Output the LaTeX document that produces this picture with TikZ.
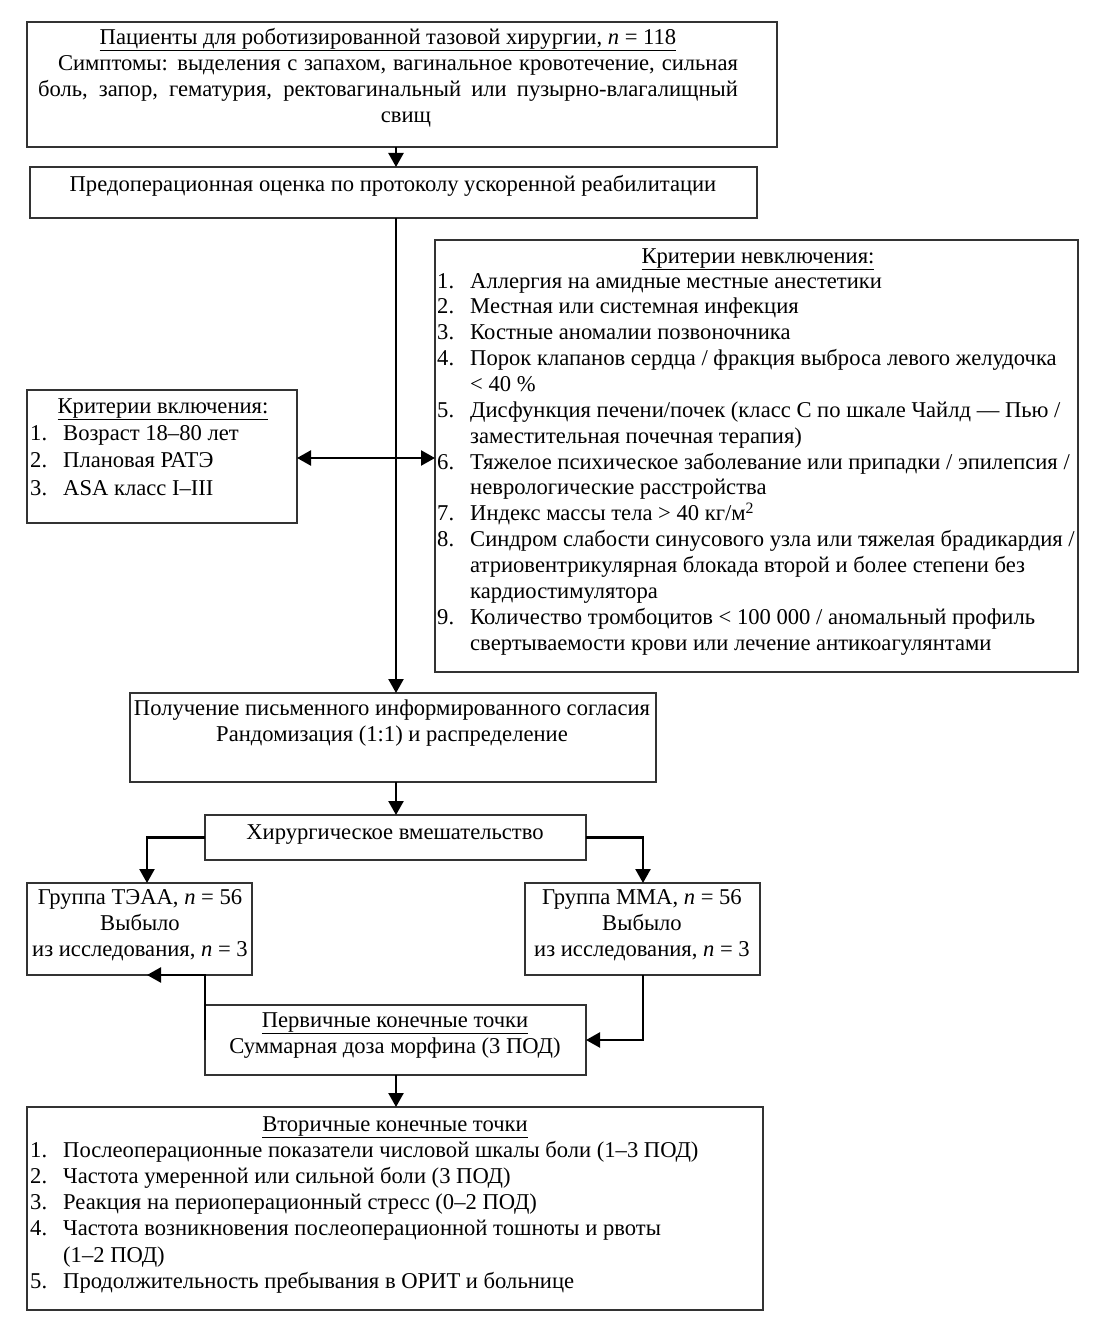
\documentclass[tikz,border=0pt]{standalone}
\usepackage{fontspec}
\setmainfont{Liberation Serif}
\usetikzlibrary{arrows.meta}
\newcommand\Lnum[1]{\strut\makebox[33pt][l]{#1}}
\newcommand\Lcont{\strut\hspace*{33pt}}
\begin{document}
\begin{tikzpicture}[x=1pt,y=-1pt,
  box/.style={draw=black!80, line width=1.6pt, anchor=north west, inner sep=0pt, outer sep=0pt},
  txt/.style={inner sep=0pt, font=\fontsize{22.6}{26}\selectfont},
  lst/.style={txt, align=left, anchor=north west},
  ctr/.style={txt, align=center, anchor=north},
  arr/.style={line width=2.4pt, -{Triangle[width=15pt,length=14pt]}},
  darr/.style={line width=2.4pt, {Triangle[width=15pt,length=14pt]}-{Triangle[width=15pt,length=14pt]}}]
\fill[white] (0,0) rectangle (1100,1337);
\useasboundingbox (0,0) rectangle (1100,1337);
% boxes
\node[box, minimum width=750pt, minimum height=125pt] (B1) at (27,22) {};
\node[box, minimum width=727pt, minimum height=51pt] (B2) at (30,167) {};
\node[box, minimum width=643pt, minimum height=432pt] (EX) at (435,240) {};
\node[box, minimum width=270pt, minimum height=133pt] (IN) at (27,390) {};
\node[box, minimum width=526pt, minimum height=89pt] (CON) at (130,693) {};
\node[box, minimum width=381pt, minimum height=45pt] (SUR) at (205,815) {};
\node[box, minimum width=225pt, minimum height=92pt] (TE) at (27,883) {};
\node[box, minimum width=235pt, minimum height=92pt] (MM) at (525,883) {};
\node[box, minimum width=381pt, minimum height=70pt] (PRI) at (205,1005) {};
\node[box, minimum width=736pt, minimum height=203pt] (SEC) at (27,1107) {};
% texts
\node[ctr] (t1) at (388,25.8) {\strut\underline{Пациенты для роботизированной тазовой хирургии, \textit{n} = 118}\\
\strut\makebox[700pt][r]{\makebox[680pt][s]{Симптомы: выделения с запахом, вагинальное кровотечение, сильная}}\\
\strut\makebox[700pt][s]{боль, запор, гематурия, ректовагинальный или пузырно-влагалищный}\\
\strut\makebox[700pt][c]{\hspace*{36pt}свищ}};
\node[ctr] (t2) at (393,172.8) {\strut Предоперационная оценка по протоколу ускоренной реабилитации};
\node[ctr] (t3) at (758,244.8) {\strut\underline{Критерии невключения:}};
\node[lst, font=\fontsize{22.6}{25.86}\selectfont] (t4) at (437,269.8) {%
\Lnum{1.}Аллергия на амидные местные анестетики\\
\Lnum{2.}Местная или системная инфекция\\
\Lnum{3.}Костные аномалии позвоночника\\
\Lnum{4.}Порок клапанов сердца / фракция выброса левого желудочка\\
\Lcont < 40 \%\\
\Lnum{5.}Дисфункция печени/почек (класс С по шкале Чайлд — Пью /\\
\Lcont заместительная почечная терапия)\\
\Lnum{6.}Тяжелое психическое заболевание или припадки / эпилепсия /\\
\Lcont неврологические расстройства\\
\Lnum{7.}Индекс массы тела > 40 кг/м\textsuperscript{2}\\
\Lnum{8.}Синдром слабости синусового узла или тяжелая брадикардия /\\
\Lcont атриовентрикулярная блокада второй и более степени без\\
\Lcont кардиостимулятора\\
\Lnum{9.}Количество тромбоцитов < 100 000 / аномальный профиль\\
\Lcont свертываемости крови или лечение антикоагулянтами};
\node[ctr] (t5) at (163,394.8) {\strut\underline{Критерии включения:}};
\node[lst, font=\fontsize{22.6}{27.5}\selectfont] (t6) at (30,420.8) {%
\Lnum{1.}Возраст 18–80 лет\\
\Lnum{2.}Плановая РАТЭ\\
\Lnum{3.}ASA класс I–III};
\node[ctr] (t7) at (392,696.8) {\strut Получение письменного информированного согласия\\
\strut Рандомизация (1:1) и распределение};
\node[ctr] (t8) at (395,820.8) {\strut Хирургическое вмешательство};
\node[ctr] (t9) at (140,885.8) {\strut Группа ТЭАА, \textit{n} = 56\\ \strut Выбыло\\ \strut из исследования, \textit{n} = 3};
\node[ctr] (t10) at (642,885.8) {\strut Группа ММА, \textit{n} = 56\\ \strut Выбыло\\ \strut из исследования, \textit{n} = 3};
\node[ctr] (t11) at (395,1008.8) {\strut\underline{Первичные конечные точки}\\
\strut Суммарная доза морфина (3 ПОД)};
\node[ctr] (t12) at (395,1112.8) {\strut\underline{Вторичные конечные точки}};
\node[lst, font=\fontsize{22.6}{26.2}\selectfont] (t13) at (30,1138.8) {%
\Lnum{1.}Послеоперационные показатели числовой шкалы боли (1–3 ПОД)\\
\Lnum{2.}Частота умеренной или сильной боли (3 ПОД)\\
\Lnum{3.}Реакция на периоперационный стресс (0–2 ПОД)\\
\Lnum{4.}Частота возникновения послеоперационной тошноты и рвоты\\
\Lcont (1–2 ПОД)\\
\Lnum{5.}Продолжительность пребывания в ОРИТ и больнице};
% connector coordinates
\coordinate (tx) at (396,0);
\coordinate (hy) at (0,458);
\coordinate (cl) at (147,0);
\coordinate (cr) at (643,0);
\coordinate (ct) at (147,0);
% connectors
\draw[arr] (B1.south -| tx) -- (B2.north -| tx);
\draw[arr] (B2.south -| tx) -- (CON.north -| tx);
\draw[darr] (IN.east |- hy) -- (EX.west |- hy);
\draw[arr] (CON.south -| tx) -- (SUR.north -| tx);
\draw[arr] (SUR.west) -| (TE.north -| cl);
\draw[arr] (SUR.east) -| (MM.north -| cr);
\draw[arr] (PRI.west) -- (PRI.west |- TE.south) -- (TE.south -| ct);
\draw[arr] (MM.south -| cr) |- (PRI.east);
\draw[arr] (PRI.south -| tx) -- (SEC.north -| tx);
\end{tikzpicture}
\end{document}
